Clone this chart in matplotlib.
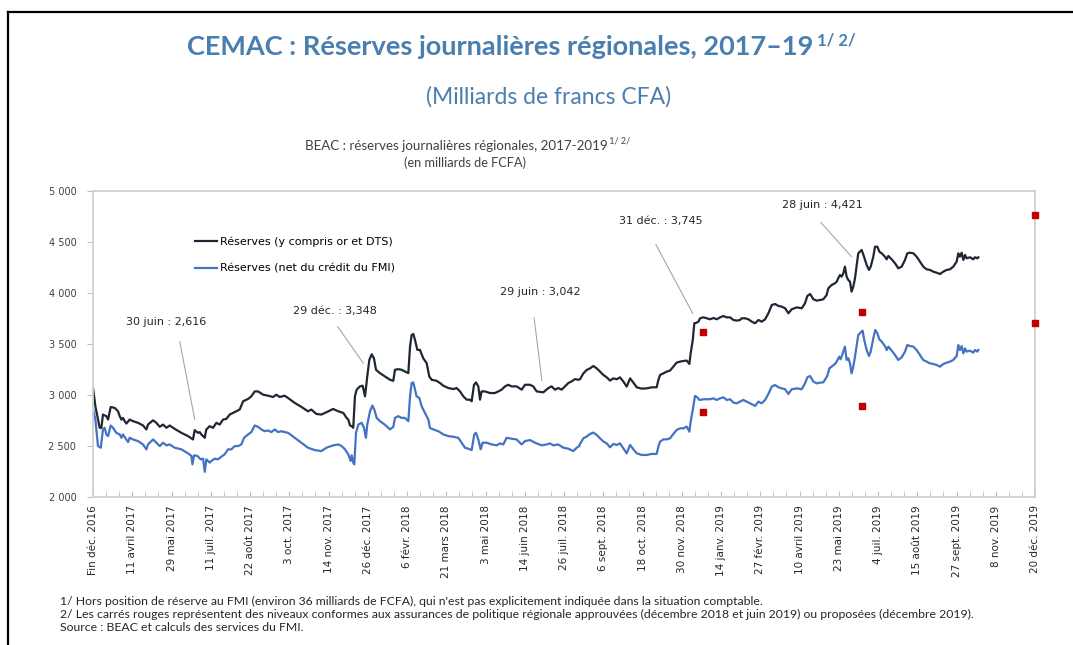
import matplotlib
matplotlib.use('Agg')
import matplotlib.pyplot as plt
from matplotlib.lines import Line2D

# Réserves (y compris or et DTS) : (observation, milliards FCFA)
reserves_brutes = [
    (0, 3068), (1.8, 2889), (5.1, 2678), (6.4, 2678), (7.6, 2808), (10.2, 2792), (11.5, 2759),
    (13.5, 2882), (16.6, 2873), (19.1, 2840), (20.4, 2792), (21.7, 2759), (22.9, 2775), (24.2, 2743),
    (25.5, 2720), (28.0, 2759), (30.6, 2743), (34.4, 2727), (38.2, 2701), (40.8, 2662), (42.0, 2710),
    (45.9, 2752), (48.4, 2727), (51.0, 2688), (53.5, 2710), (56.1, 2678), (58.6, 2701), (62.4, 2668),
    (67.5, 2629), (72.6, 2597), (76.4, 2564), (77.7, 2655), (80.3, 2629), (81.5, 2636), (82.8, 2613),
    (85.4, 2580), (86.6, 2662), (89.2, 2694), (91.7, 2678), (94.3, 2727), (96.8, 2710), (99.4, 2759),
    (101.9, 2766), (104.5, 2808), (107.0, 2824), (109.6, 2840), (112.1, 2857), (114.7, 2938),
    (118.5, 2961), (121.0, 2987), (123.6, 3035), (126.1, 3035), (130.0, 3003), (133.8, 2993),
    (137.6, 2980), (140.1, 3003), (142.7, 2980), (146.5, 2993), (149.1, 2970), (154.2, 2922),
    (159.3, 2883), (164.3, 2840), (166.9, 2857), (170.7, 2814), (174.5, 2808), (178.4, 2831),
    (183.5, 2863), (187.5, 2840), (191.3, 2824), (193.8, 2775), (195.1, 2759), (196.4, 2701),
    (197.7, 2694), (198.9, 2678), (200.2, 2987), (201.5, 3052), (204.0, 3084), (206.1, 3091),
    (207.9, 2987), (209.6, 3182), (211.2, 3344), (213.0, 3399), (214.7, 3360), (216.3, 3247),
    (219.3, 3214), (223.1, 3182), (227.0, 3149), (229.5, 3139), (230.8, 3247), (233.3, 3253),
    (235.9, 3247), (238.4, 3230), (241.0, 3214), (242.3, 3474), (243.5, 3588), (244.8, 3598),
    (246.1, 3539), (247.9, 3442), (249.9, 3442), (252.4, 3360), (255.0, 3312), (257.0, 3182),
    (258.8, 3149), (262.6, 3139), (265.2, 3117), (267.7, 3091), (271.6, 3068), (275.4, 3058),
    (277.9, 3068), (280.5, 3035), (283.0, 2987), (285.6, 2954), (288.1, 2954), (289.4, 2938),
    (291.2, 3100), (292.7, 3123), (294.5, 3084), (295.8, 2954), (297.0, 3035), (299.6, 3035),
    (303.4, 3019), (307.2, 3019), (309.8, 3035), (312.3, 3052), (314.9, 3084), (317.4, 3100),
    (320.0, 3084), (323.8, 3084), (327.6, 3052), (330.2, 3100), (334.0, 3100), (336.5, 3084),
    (339.1, 3035), (344.2, 3026), (348.0, 3068), (350.5, 3084), (353.1, 3052), (355.6, 3068),
    (358.2, 3052), (360.7, 3084), (363.3, 3117), (365.8, 3133), (368.4, 3156), (370.9, 3149),
    (372.2, 3154), (374.8, 3212), (377.3, 3245), (379.9, 3261), (382.4, 3284), (385.0, 3261),
    (387.5, 3229), (390.1, 3196), (392.6, 3173), (395.2, 3141), (397.7, 3163), (400.3, 3154),
    (402.8, 3173), (405.4, 3131), (407.9, 3082), (410.5, 3163), (413.0, 3121), (415.6, 3075),
    (419.4, 3062), (423.2, 3065), (427.0, 3075), (430.8, 3075), (432.1, 3147), (433.4, 3196),
    (436.0, 3212), (438.5, 3229), (441.0, 3239), (443.6, 3278), (446.1, 3317), (448.7, 3327),
    (451.2, 3333), (453.8, 3337), (455.8, 3304), (456.8, 3408), (458.4, 3539), (459.6, 3703),
    (461.4, 3709), (462.7, 3719), (464.0, 3752), (466.5, 3761), (469.1, 3752), (471.6, 3742),
    (474.2, 3755), (476.7, 3742), (479.3, 3761), (481.8, 3774), (484.4, 3761), (486.9, 3761),
    (489.5, 3735), (492.0, 3729), (494.5, 3735), (495.8, 3752), (498.4, 3752), (500.9, 3742),
    (503.5, 3719), (506.0, 3703), (508.6, 3735), (511.1, 3719), (513.7, 3742), (516.2, 3801),
    (518.8, 3882), (521.3, 3892), (523.9, 3873), (526.4, 3866), (529.0, 3850), (531.5, 3801),
    (534.0, 3840), (537.9, 3859), (541.7, 3850), (544.2, 3899), (546.0, 3971), (548.1, 3990),
    (550.6, 3938), (553.2, 3925), (555.7, 3931), (558.2, 3938), (560.7, 3980), (562.0, 4046),
    (563.3, 4062), (564.5, 4078), (567.1, 4095), (568.4, 4111), (569.6, 4144), (570.9, 4176),
    (572.2, 4160), (573.5, 4193), (574.7, 4258), (576.0, 4160), (577.3, 4127), (578.6, 4111),
    (579.8, 4013), (581.1, 4062), (582.4, 4144), (583.7, 4275), (584.9, 4389), (586.2, 4405),
    (587.5, 4422), (589.3, 4356), (591.3, 4275), (593.1, 4226), (594.4, 4258), (596.4, 4356),
    (597.7, 4454), (599.5, 4454), (601.0, 4405), (602.8, 4389), (605.3, 4356), (606.6, 4330),
    (607.9, 4363), (610.4, 4330), (613.0, 4291), (615.5, 4242), (618.1, 4258), (620.6, 4324),
    (622.4, 4389), (624.4, 4395), (627.0, 4389), (629.5, 4356), (632.1, 4307), (634.6, 4258),
    (637.2, 4232), (639.7, 4226), (642.3, 4209), (644.8, 4199), (647.4, 4186), (649.9, 4209),
    (652.5, 4226), (655.0, 4232), (657.5, 4258), (660.1, 4307), (661.4, 4389), (662.6, 4356),
    (663.9, 4395), (665.2, 4324), (666.5, 4373), (667.7, 4340), (670.3, 4350), (672.8, 4330),
    (674.1, 4350), (675.9, 4340), (676.7, 4350),
]

# Réserves (net du crédit du FMI)
reserves_nettes = [
    (0, 2863), (1.8, 2759), (3.8, 2499), (5.9, 2483), (7.6, 2662), (8.9, 2678), (10.2, 2613),
    (11.5, 2597), (13.5, 2701), (15.3, 2678), (17.8, 2629), (20.4, 2613), (21.7, 2580), (22.9, 2613),
    (25.5, 2564), (26.8, 2538), (28.0, 2580), (30.6, 2564), (34.4, 2548), (38.2, 2515), (40.8, 2467),
    (42.0, 2515), (45.9, 2564), (48.4, 2532), (51.0, 2499), (53.5, 2532), (56.1, 2506), (58.6, 2515),
    (62.4, 2483), (67.5, 2467), (72.6, 2428), (75.2, 2402), (76.0, 2320), (77.2, 2408), (79.8, 2402),
    (82.3, 2369), (84.1, 2376), (85.4, 2246), (86.6, 2369), (89.2, 2337), (90.5, 2353), (93.0, 2376),
    (95.5, 2369), (98.1, 2395), (100.6, 2418), (103.2, 2467), (105.7, 2467), (108.3, 2499),
    (110.8, 2499), (113.4, 2515), (115.4, 2580), (118.5, 2613), (121.0, 2636), (123.6, 2701),
    (126.1, 2688), (128.7, 2662), (131.2, 2645), (133.8, 2652), (136.3, 2636), (138.9, 2662),
    (141.4, 2636), (144.0, 2645), (146.5, 2636), (149.1, 2629), (154.2, 2580), (159.3, 2532),
    (164.3, 2483), (169.4, 2460), (174.5, 2450), (178.4, 2483), (183.5, 2506), (187.5, 2515),
    (190.0, 2499), (192.6, 2467), (195.1, 2418), (196.9, 2353), (197.7, 2408), (198.9, 2337),
    (199.7, 2320), (201.0, 2629), (202.8, 2710), (205.3, 2727), (207.1, 2678), (208.6, 2580),
    (209.6, 2710), (211.7, 2840), (213.5, 2896), (215.0, 2857), (216.8, 2775), (219.3, 2743),
    (221.9, 2720), (224.4, 2694), (227.0, 2662), (229.5, 2688), (230.8, 2775), (233.3, 2792),
    (235.9, 2775), (238.4, 2775), (241.0, 2743), (242.3, 2987), (243.5, 3117), (244.8, 3123),
    (246.1, 3052), (247.3, 2987), (249.4, 2970), (251.2, 2889), (253.7, 2824), (256.3, 2759),
    (257.5, 2678), (260.1, 2662), (263.9, 2645), (267.7, 2613), (271.6, 2597), (275.4, 2590),
    (279.2, 2580), (281.7, 2532), (284.3, 2483), (286.8, 2473), (289.4, 2460), (291.4, 2613),
    (292.7, 2629), (294.5, 2564), (296.3, 2467), (297.8, 2532), (300.9, 2532), (304.7, 2515),
    (308.5, 2506), (311.0, 2525), (313.6, 2515), (316.1, 2580), (320.0, 2571), (323.8, 2564),
    (327.6, 2515), (330.2, 2548), (334.0, 2558), (337.8, 2532), (342.9, 2506), (346.7, 2515),
    (349.3, 2525), (351.8, 2506), (355.6, 2515), (359.5, 2483), (363.3, 2473), (367.1, 2450),
    (369.7, 2483), (371.7, 2499), (372.2, 2520), (374.8, 2575), (377.3, 2592), (379.9, 2618),
    (382.4, 2631), (385.0, 2608), (387.5, 2575), (390.1, 2543), (392.6, 2526), (395.2, 2487),
    (397.7, 2520), (400.3, 2510), (402.8, 2526), (405.4, 2477), (407.9, 2428), (410.5, 2510),
    (413.0, 2467), (415.6, 2428), (419.4, 2412), (423.2, 2412), (427.0, 2422), (430.8, 2422),
    (432.1, 2493), (433.4, 2543), (436.0, 2565), (438.5, 2565), (441.0, 2575), (443.6, 2618),
    (446.1, 2657), (448.7, 2673), (451.2, 2673), (453.8, 2690), (455.8, 2640), (456.8, 2739),
    (458.4, 2853), (460.1, 2990), (461.9, 2977), (463.5, 2951), (466.5, 2958), (469.1, 2958),
    (471.6, 2958), (474.2, 2967), (476.7, 2951), (479.3, 2967), (481.8, 2977), (484.4, 2951),
    (486.9, 2958), (489.5, 2925), (492.0, 2918), (494.5, 2935), (497.1, 2951), (499.6, 2935),
    (502.2, 2918), (504.7, 2902), (506.0, 2892), (508.6, 2935), (511.1, 2918), (513.7, 2951),
    (516.2, 3010), (518.8, 3082), (521.3, 3098), (523.9, 3075), (526.4, 3065), (529.0, 3056),
    (531.5, 3010), (534.0, 3056), (537.9, 3065), (541.7, 3056), (544.2, 3114), (546.0, 3173),
    (548.1, 3186), (550.6, 3131), (553.2, 3114), (555.7, 3121), (558.2, 3124), (561.2, 3186),
    (562.8, 3261), (564.5, 3278), (567.1, 3304), (568.4, 3327), (570.4, 3376), (571.4, 3350),
    (573.0, 3408), (574.7, 3474), (576.0, 3343), (577.3, 3360), (578.6, 3310), (579.8, 3212),
    (581.1, 3278), (582.4, 3376), (583.7, 3490), (584.9, 3588), (586.2, 3605), (588.2, 3631),
    (589.5, 3539), (591.3, 3441), (593.1, 3382), (594.4, 3425), (596.4, 3556), (597.9, 3637),
    (599.5, 3605), (601.0, 3546), (602.8, 3523), (605.3, 3480), (606.6, 3441), (607.9, 3474),
    (610.4, 3435), (613.0, 3392), (615.5, 3343), (618.1, 3369), (620.6, 3425), (622.4, 3490),
    (624.4, 3480), (627.0, 3474), (629.5, 3441), (632.1, 3392), (634.6, 3343), (637.2, 3327),
    (639.7, 3310), (642.3, 3304), (644.8, 3294), (647.4, 3278), (649.9, 3304), (652.5, 3317),
    (655.0, 3327), (657.5, 3343), (660.1, 3382), (661.4, 3490), (662.6, 3441), (663.9, 3480),
    (665.2, 3408), (666.5, 3457), (667.7, 3425), (670.3, 3435), (672.8, 3415), (674.1, 3441),
    (675.9, 3425), (676.7, 3441),
]

# Niveaux conformes aux assurances (déc. 2018, juin 2019, déc. 2019)
repere_obs = [466, 588, 720]
repere_brutes = [3620, 3810, 4760]
repere_nettes = [2830, 2890, 3710]

etiquettes_x = ['Fin déc. 2016', '11 avril 2017', '29 mai 2017', '11 juil. 2017', '22 août 2017',
                '3 oct. 2017', '14 nov. 2017', '26 déc. 2017', '6 févr. 2018', '21 mars 2018',
                '3 mai 2018', '14 juin 2018', '26 juil. 2018', '6 sept. 2018', '18 oct. 2018',
                '30 nov. 2018', '14 janv. 2019', '27 févr. 2019', '10 avril 2019', '23 mai 2019',
                '4 juil. 2019', '15 août 2019', '27 sept. 2019', '8 nov. 2019', '20 déc. 2019']

# (texte, position du texte, début du trait, fin du trait)
annotations = [
    ('30 juin : 2,616', (55.8, 3716), (66.3, 3523), (77.7, 2762)),
    ('29 déc. : 3,348', (185.0, 3824), (187.0, 3670), (206.6, 3311)),
    ('29 juin : 3,042', (341.6, 4010), (337.1, 3757), (343.1, 3140)),
    ('31 déc. : 3,745', (434.1, 4706), (430.2, 4475), (458.3, 3801)),
    ('28 juin : 4,421', (557.2, 4858), (556.3, 4691), (579.6, 4358)),
]

bleu_titre = '#4a7eb0'
noir_serie = '#1e2733'
bleu_serie = '#4472c4'
rouge = '#c00000'

fig = plt.figure(figsize=(10.73, 6.45), dpi=100)
ax = fig.add_axes([0.0867, 0.2295, 0.8779, 0.4744])

ax.plot([p[0] for p in reserves_brutes], [p[1] for p in reserves_brutes],
        color=noir_serie, lw=1.6, label='Réserves (y compris or et DTS)')
ax.plot([p[0] for p in reserves_nettes], [p[1] for p in reserves_nettes],
        color=bleu_serie, lw=1.6, label='Réserves (net du crédit du FMI)')

ax.scatter(repere_obs, repere_brutes, marker='s', s=22, color=rouge, zorder=5, clip_on=False)
ax.scatter(repere_obs, repere_nettes, marker='s', s=22, color=rouge, zorder=5, clip_on=False)

ax.set_xlim(0, 720)
ax.set_ylim(2000, 5000)

# axe horizontal : graduations tous les 10 points, libellés tous les 30
ax.set_xticks(range(0, 721, 30))
ax.set_xticklabels(etiquettes_x, rotation=90, fontsize=7.5, color='#262626')
ax.set_xticks(range(0, 721, 10), minor=True)
ax.tick_params(axis='x', which='both', direction='in', length=4, color='#bfbfbf', pad=6)

ax.set_yticks(range(2000, 5001, 500))
ax.set_yticklabels([f'{v // 1000} {v % 1000:03d}' for v in range(2000, 5001, 500)],
                   fontsize=7, color='#404040')
ax.tick_params(axis='y', direction='out', length=4, color='#bfbfbf', pad=8)

for sp in ax.spines.values():
    sp.set_color('#d0d0d0')
    sp.set_linewidth(1.3)

for texte, pos_txt, debut, fin in annotations:
    ax.text(pos_txt[0], pos_txt[1], texte, fontsize=8, color='#262626', ha='center', va='center')
    ax.plot([debut[0], fin[0]], [debut[1], fin[1]], color='#a6a6a6', lw=0.8)

ax.legend(loc='upper left', bbox_to_anchor=(0.108, 0.852), frameon=False, fontsize=8,
          handlelength=2.0, handletextpad=0.3, labelspacing=1.55, borderpad=0, borderaxespad=0)

# titres
t1 = fig.text(0.466, 0.927, 'CEMAC : Réserves journalières régionales, 2017–19',
              fontsize=19.5, fontweight='bold', family='Lato', color=bleu_titre,
              ha='center', va='center')
fig.text(0.511, 0.850, '(Milliards de francs CFA)', fontsize=16.5, family='Lato',
         color=bleu_titre, ha='center', va='center')
plt.annotate(' 1/ 2/', xy=(1, 0.45), xycoords=t1, fontsize=12, fontweight='bold',
             family='Lato', color=bleu_titre, ha='left', va='bottom')

t2 = fig.text(0.425, 0.774, 'BEAC : réserves journalières régionales, 2017-2019',
              fontsize=9.6, family='Lato', color='#404040', ha='center', va='center')
plt.annotate(' 1/ 2/', xy=(1, 0.5), xycoords=t2, fontsize=6.5, family='Lato',
             color='#404040', ha='left', va='bottom')
fig.text(0.433, 0.747, '(en milliards de FCFA)', fontsize=9.2, family='Lato',
         color='#404040', ha='center', va='center')

# notes
notes = [
    "1/ Hors position de réserve au FMI (environ 36 milliards de FCFA), qui n'est pas explicitement indiquée dans la situation comptable.",
    "2/ Les carrés rouges représentent des niveaux conformes aux assurances de politique régionale approuvées (décembre 2018 et juin 2019) ou proposées (décembre 2019).",
    "Source : BEAC et calculs des services du FMI.",
]
for i, n in enumerate(notes):
    fig.text(0.056, 0.068 - i * 0.0202, n, fontsize=8.8, family='Lato', color='#262626',
             ha='left', va='center')

# cadre extérieur
x0 = 8 / 1073
y0 = 1 - 12 / 645
fig.add_artist(Line2D([x0, 1], [y0, y0], transform=fig.transFigure, color='black', lw=1.6))
fig.add_artist(Line2D([x0, x0], [0, y0], transform=fig.transFigure, color='black', lw=1.6))

fig.savefig('out.png', dpi=100)
